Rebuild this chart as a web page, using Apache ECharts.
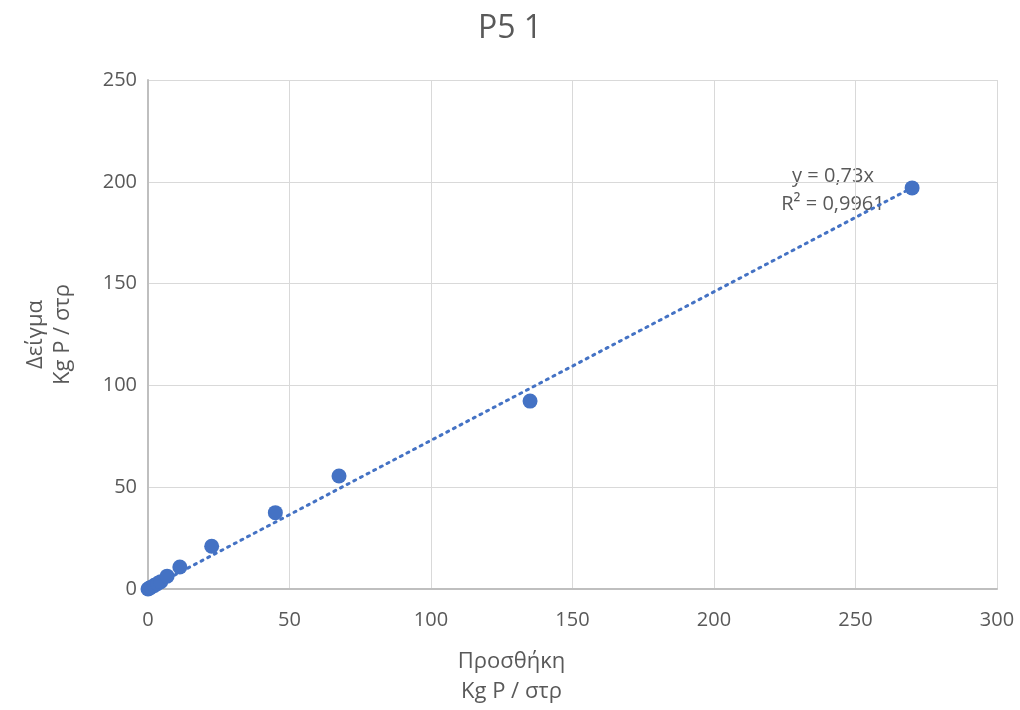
<!DOCTYPE html>
<html>
<head>
<meta charset="UTF-8">
<title>P5 1</title>
<script src="https://cdn.jsdelivr.net/npm/echarts@6/dist/echarts.min.js"></script>
<style>
  html, body { margin: 0; padding: 0; background: #fff; }
  #chart { width: 1020px; height: 710px; }
</style>
</head>
<body>
<div id="chart"></div>
<script>
// data
var addedX = [0, 0.45, 1.1, 2.25, 3.4, 4.5, 6.75, 11.25, 22.5, 45, 67.5, 135, 270];
var sampleY = [0, 0.4, 0.9, 1.8, 2.7, 3.6, 6.3, 10.8, 21, 37.5, 55.5, 92.3, 197];
// linear trendline through origin, as in the label
var trendSlope = 0.73;
var trendX = [0, 270];
var trendLabel = ['y = 0,73x', 'R² = 0,9961'];

var xTicks = { min: 0, max: 300, interval: 50 };
var yTicks = { min: 0, max: 250, interval: 50 };

var pts = addedX.map(function (x, i) { return [x, sampleY[i]]; });
var trend = trendX.map(function (x) { return [x, trendSlope * x]; });

var font = 'Open Sans';
var grey = '#595959';

var chart = echarts.init(document.getElementById('chart'));
chart.setOption({
  animation: false,
  title: {
    text: 'P5 1',
    left: 'center',
    top: 8,
    textStyle: { fontFamily: font, fontSize: 32, fontWeight: 'normal', color: grey }
  },
  grid: { left: 148, right: 23, top: 80, bottom: 121, outerBoundsMode: 'none', containLabel: false },
  xAxis: {
    type: 'value',
    min: xTicks.min, max: xTicks.max, interval: xTicks.interval,
    name: 'Προσθήκη\nKg P / στρ',
    nameLocation: 'middle',
    nameGap: 58,
    nameTextStyle: { fontFamily: font, fontSize: 22, color: grey, lineHeight: 30, padding: [0, 122, 0, 0] },
    axisLine: { lineStyle: { color: '#bfbfbf', width: 2 } },
    axisTick: { show: false },
    axisLabel: { fontFamily: font, fontSize: 20, color: grey, margin: 21 },
    splitLine: { lineStyle: { color: '#d9d9d9', width: 1 } }
  },
  yAxis: {
    type: 'value',
    min: yTicks.min, max: yTicks.max, interval: yTicks.interval,
    name: 'Δείγμα\nKg P / στρ',
    nameLocation: 'middle',
    nameGap: 72,
    nameRotate: 90,
    nameTextStyle: { fontFamily: font, fontSize: 22, color: grey, lineHeight: 27 },
    axisLine: { show: true, lineStyle: { color: '#bfbfbf', width: 2 } },
    axisTick: { show: false },
    axisLabel: { fontFamily: font, fontSize: 20, color: grey, margin: 11 },
    splitLine: { lineStyle: { color: '#d9d9d9', width: 1 } }
  },
  graphic: [
    {
      type: 'text',
      x: 833, y: 162,
      style: {
        text: trendLabel.join('\n'),
        font: '20px "Open Sans"',
        fill: grey,
        align: 'center',
        lineHeight: 28
      }
    }
  ],
  series: [
    {
      type: 'line',
      data: trend,
      showSymbol: false,
      lineStyle: { color: '#4472C4', width: 3, type: [2, 5.5], cap: 'round' },
      z: 1
    },
    {
      type: 'scatter',
      data: pts,
      symbolSize: 15,
      itemStyle: { color: '#4472C4', opacity: 1 },
      z: 2
    }
  ]
});
</script>
</body>
</html>
